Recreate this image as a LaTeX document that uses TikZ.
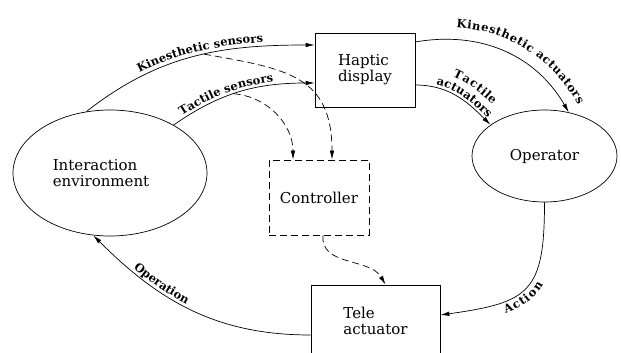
\documentclass[tikz,border=0pt]{standalone}
\usepackage{fontspec}
\setmainfont{DejaVu Serif}
\usetikzlibrary{shapes.geometric,arrows.meta,decorations.text}
\newcommand\lblfont{\bfseries\fontsize{11.5}{13}\selectfont}
\begin{document}
\begin{tikzpicture}[x=1pt,y=1pt,
  line width=0.7pt,
  nodefont/.style={font=\fontsize{15}{16}\selectfont},
  ell/.style={draw, ellipse, inner sep=0pt, nodefont},
  box/.style={draw, rectangle, inner sep=0pt, nodefont},
  dsh/.style={dash pattern=on 7pt off 4pt},
  arr/.style={-{Latex[length=9pt,width=4.5pt]}},
]
\useasboundingbox (0,0) rectangle (621,353);
\node[ell, minimum width=194pt, minimum height=126pt, align=left] (env) at (110,180) {Interaction\\environment\hspace*{18pt}};
\node[box, minimum width=100pt, minimum height=74pt, align=left] (hap) at (365,283) {Haptic\\display};
\node[ell, minimum width=145pt, minimum height=92pt] (op) at (544.5,197) {Operator};
\node[box, dsh, minimum width=100pt, minimum height=75pt] (ctrl) at (319,155.5) {Controller};
\node[box, minimum width=129pt, minimum height=71pt, align=left] (tele) at (375.5,32.5) {Tele\\actuator};

\draw[arr, postaction={decorate, decoration={text along path, text={|\lblfont|Kinesthetic sensors}, text align={left indent=65pt}, raise=4pt}}]
  (env.111) to[out=38,in=180] coordinate[pos=0.55] (k1) ([yshift=25pt]hap.west);
\draw[arr, postaction={decorate, decoration={text along path, text={|\lblfont|Tactile sensors}, text align={left indent=12pt}, raise=3pt}}]
  (env.37) to[out=35,in=180] coordinate[pos=0.45] (t1) ([yshift=-13pt]hap.west);
\draw[arr, dsh] (k1) to[out=-10,in=90,looseness=1.3] ([xshift=13pt]ctrl.north);
\draw[arr, dsh] (t1) to[out=-5,in=90] ([xshift=-26pt]ctrl.north);

\draw[arr, postaction={decorate, decoration={text along path, text={|\lblfont|Kinesthetic actuators}, text align={left indent=40pt}, raise=12pt}}]
  ([yshift=28pt]hap.east) to[out=10,in=120] (op.61);
\draw[arr,
  postaction={decorate, decoration={text along path, text={|\lblfont|Tactile}, text align={left indent=31pt}, raise=16pt}},
  postaction={decorate, decoration={text along path, text={|\lblfont|actuators}, text align={left indent=20pt}, raise=3pt}}]
  ([yshift=-15pt]hap.east) to[out=0,in=135] (op.150);

\draw[arr, dsh] ([xshift=4pt]ctrl.south) to[out=-95,in=120] ([xshift=10pt]tele.north);

\draw[arr, postaction={decorate, decoration={text along path, reverse path, text={|\lblfont|Action}, text align={left indent=62pt}, raise=-12pt}}]
  (op.south) to[out=-90,in=8,looseness=1.5] ([yshift=5.5pt]tele.east);
\draw[arr, postaction={decorate, decoration={text along path, reverse path, text={|\lblfont|Operation}, text align={left indent=52pt}, raise=3pt}}]
  ([yshift=-14.5pt]tele.west) to[out=180,in=-45] (env.255);
\end{tikzpicture}
\end{document}
